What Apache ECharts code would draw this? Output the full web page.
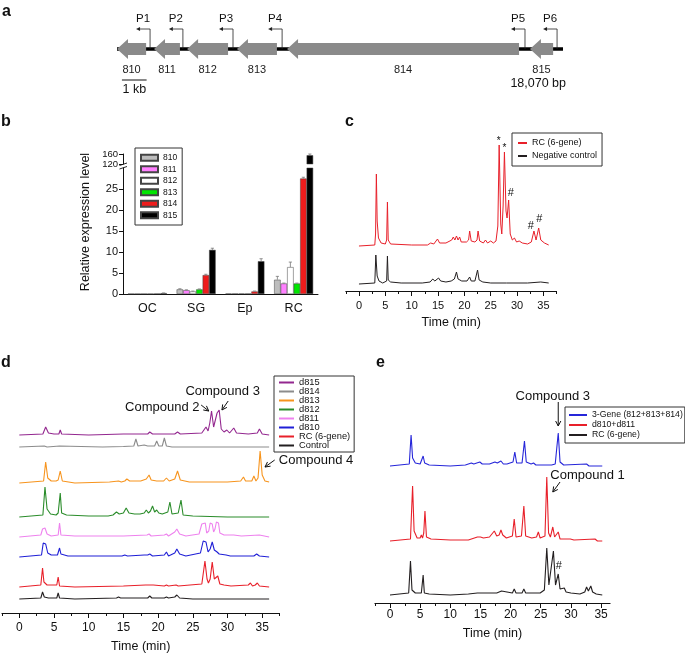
<!DOCTYPE html>
<html><head><meta charset="utf-8">
<script src="https://cdn.jsdelivr.net/npm/echarts@6.0.0/dist/echarts.min.js"></script>
<style>html,body{margin:0;padding:0;background:#fff}#c{width:685px;height:654px}</style>
</head><body><div id="c"></div>
<script>
// ================= DATA =================
// Panel a : gene cluster (kb)
const geneNames = ['810','811','812','813','814','815'];
const geneStartKb = [0, 1.5, 2.84, 4.86, 6.89, 16.73];
const geneEndKb   = [1.18, 2.55, 4.5, 6.48, 16.29, 17.67];
const promoterNames = ['P1','P2','P3','P4','P5','P6'];
const promoterKb = [1.34, 2.67, 4.7, 6.69, 16.53, 17.83];
const clusterLengthBp = 18070;
const scaleBarKb = [0.2, 1.2];

// Panel b : relative expression level
const tissues = ['OC','SG','Ep','RC'];
const expr810 = [0.05, 1.1, 0.1, 3.4];
const expr811 = [0.05, 0.9, 0.1, 2.5];
const expr812 = [0.05, 0.6, 0.1, 6.4];
const expr813 = [0.05, 1.1, 0.1, 2.5];
const expr814 = [0.1, 4.5, 0.6, 27.5];
const expr815 = [0.2, 10.5, 7.8, 155];
const err810 = [0, 0.15, 0, 0.8];
const err811 = [0, 0.1, 0, 0.1];
const err812 = [0, 0.1, 0, 1.2];
const err813 = [0, 0.1, 0, 0.1];
const err814 = [0, 0.2, 0.1, 0.3];
const err815 = [0.05, 0.4, 0.6, 5];
const bLowerTicks = [0,5,10,15,20,25];
const bUpperTicks = [120,160];

// Time axis ticks
const timeLabels = [0,5,10,15,20,25,30,35];
const timeMinor = [-2.5,2.5,7.5,12.5,17.5,22.5,27.5,32.5,37.5];

// Panel c : chromatograms [time (min), intensity]
const cRC = [[0,0],[3.0,1],[3.15,12],[3.3,72],[3.45,25],[3.7,8],[4.2,3],[5.0,2],[5.25,6],[5.4,44],[5.55,6],[6.0,2],[10,1],[13,1],[13.6,3],[14.2,2],[14.9,7],[15.3,3],[16.5,3],[17.6,6],[17.9,9],[18.2,6],[18.5,10],[18.8,6],[19.1,9],[19.4,4],[20.4,4],[20.8,6],[21.0,15],[21.3,5],[22.0,4],[22.4,6],[22.6,15],[22.9,5],[23.6,3],[24.0,6],[24.4,3],[25.0,5],[25.5,3],[26.0,5],[26.35,20],[26.6,101],[26.9,22],[27.1,12],[27.35,40],[27.6,94],[27.9,35],[28.1,28],[28.4,46],[28.7,12],[29.1,6],[29.5,8],[29.9,4],[30.4,5],[31,3],[32,2],[32.7,4],[33.2,15],[33.6,6],[34.1,18],[34.5,6],[35.2,3],[36,1]];
const cNeg = [[0,0],[3.0,1],[3.2,29],[3.45,8],[3.8,3],[4.5,1],[5.25,3],[5.4,28],[5.55,4],[6.0,2],[8,1],[12,1],[13.5,2],[14.0,5],[14.4,3],[15.1,6],[15.5,3],[16.5,2],[17.5,3],[18.1,5],[18.5,12],[18.8,5],[19.5,3],[20.5,3],[21.0,7],[21.3,3],[22.0,3],[22.5,14],[22.8,4],[23.5,2],[25,1],[28,1],[32,1],[34.5,2],[36,1]];

// Panel d
const d815 = [[0,0],[3.4,1],[3.8,8],[4.2,2],[5.0,1],[5.7,1],[5.9,5],[6.1,1],[10,0],[15,1],[18.5,1],[18.8,3],[19.2,1],[22.4,1],[22.8,3],[23.2,1],[26.3,2],[26.9,8],[27.2,4],[27.45,12],[27.7,24],[28.0,8],[28.25,8],[28.5,22],[28.8,25],[29.1,6],[29.5,3],[29.9,5],[30.3,2],[30.9,7],[31.3,2],[33,1],[34.3,2],[34.6,6],[35.0,1],[36,0]];
const d814 = [[0,0],[3.6,1],[3.8,2],[4.0,0],[5.8,1],[6.0,0],[12,0],[15,0.5],[16.5,1],[16.8,8],[17.1,1],[18.0,2],[18.5,1],[19.5,1],[19.8,6],[20.1,1],[20.6,1],[20.9,9],[21.2,1],[22,0],[36,0]];
const d813 = [[0,0],[3.5,2],[3.8,21],[4.1,5],[4.6,2],[5.3,2],[5.6,3],[5.9,12],[6.2,2],[8,0],[13,1],[14.3,2],[14.7,1],[15.2,2],[15.5,4],[15.9,2],[17.5,2],[18.3,4],[18.7,8],[19.0,3],[19.8,2],[20.8,2],[21.2,5],[21.6,2],[22.4,4],[22.8,12],[23.2,3],[24.5,1],[30,1],[31.9,2],[32.3,6],[32.6,2],[33.5,2],[33.8,7],[34.1,2],[34.4,5],[34.7,32],[35.0,8],[35.4,2],[36,1]];
const d812 = [[0,0],[3.4,2],[3.7,30],[4.0,8],[4.5,3],[5.3,2],[5.6,4],[5.9,24],[6.1,4],[6.8,2],[10,1],[12.8,1],[13.5,2],[14.0,5],[14.4,3],[15.0,4],[15.4,9],[15.8,4],[16.6,3],[17.4,3],[18.0,4],[18.3,7],[18.6,4],[18.9,6],[19.2,11],[19.5,5],[19.8,7],[20.1,4],[20.6,3],[21.4,5],[21.7,15],[22.0,3],[22.9,4],[23.3,17],[23.6,2],[25,1],[30,0],[36,0]];
const d811 = [[0,0],[3.1,2],[3.35,8],[3.7,9],[4.0,3],[4.6,1],[5.6,2],[5.8,14],[6.0,2],[8,1],[15,1],[18.4,2],[18.7,3],[19.0,1],[20.9,2],[21.2,3],[21.5,1],[22.4,5],[22.7,8],[23.1,3],[24,1],[25.9,3],[26.3,13],[26.5,15],[26.8,14],[27.0,4],[27.3,6],[27.5,14],[27.8,13],[28.0,5],[28.2,8],[28.4,15],[28.7,14],[28.9,4],[29.5,2],[30.9,2],[32,1],[34.6,2],[36,0]];
const d810 = [[0,0],[3.2,2],[3.45,14],[3.8,13],[4.1,4],[4.6,2],[5.5,2],[5.8,9],[6.0,3],[7,1],[14.8,1],[15.2,2],[15.6,1],[18.0,2],[18.2,3],[18.5,2],[18.8,3],[19.2,1],[20.9,2],[21.2,5],[21.5,1],[22.4,4],[22.7,8],[23.1,3],[24,1],[26.1,4],[26.5,16],[26.9,15],[27.2,5],[27.5,8],[27.8,15],[28.1,7],[28.3,5],[28.5,5],[28.8,3],[29.8,2],[30.4,1],[33.8,1],[34.2,3],[34.6,1],[36,0]];
const dRC = [[0,0],[3.1,2],[3.35,19],[3.55,5],[4.0,2],[5.4,2],[5.6,10],[5.8,1],[8,0],[15,1],[18.2,2],[18.8,2],[19.3,2],[20.9,1],[21.2,2],[21.5,1],[22.6,2],[22.9,1],[26.3,3],[26.75,26],[27.05,8],[27.25,4],[27.5,8],[27.8,25],[28.1,8],[28.3,7],[28.6,11],[28.9,3],[29.5,2],[30.5,1],[33.0,2],[33.3,4],[33.6,1],[34.0,2],[34.3,4],[34.6,1],[36,0]];
const dCtrl = [[0,0],[3.1,1],[3.35,7],[3.6,2],[4.2,1],[5.4,1],[5.6,6],[5.8,1],[8,0],[14.0,1],[14.3,2],[14.6,1],[18.5,1],[18.8,3],[19.1,1],[20.9,1],[21.2,2],[21.5,1],[22.4,2],[22.7,4],[23.1,1],[25,0],[36,0]];

// Panel e
const e3Gene = [[0,0],[3.2,2],[3.5,31],[3.75,8],[4.2,3],[5.0,2],[5.3,3],[5.5,10],[5.75,3],[6.5,1],[10,0],[12.5,1],[13.5,3],[13.9,2],[14.9,4],[15.3,2],[16.5,2],[17.4,4],[17.8,3],[18.4,5],[18.8,2],[19.4,2],[20.4,4],[20.7,14],[21.0,3],[21.9,3],[22.3,25],[22.6,4],[23.4,2],[23.8,3],[24.2,1],[26.8,1],[27.1,3],[27.4,2],[27.6,4],[27.9,33],[28.2,4],[28.8,1],[32.6,2],[33,0],[35.2,0]];
const eD810D811 = [[0,0],[3.4,2],[3.75,55],[4.0,10],[4.5,3],[5.0,3],[5.2,6],[5.4,3],[5.6,8],[5.8,30],[6.05,4],[6.8,2],[10,1],[13,1],[14,3],[14.5,4],[15.0,4],[15.5,3],[16.5,4],[17.3,10],[17.7,5],[18.1,6],[18.4,11],[18.7,6],[19.0,8],[19.3,3],[20.3,5],[20.6,22],[20.9,4],[21.8,5],[22.2,35],[22.5,5],[23.5,3],[24.3,4],[24.6,9],[24.9,3],[25.7,5],[26.0,64],[26.3,8],[26.6,4],[27.0,14],[27.3,4],[27.6,4],[27.9,9],[28.2,2],[29.0,2],[29.9,2],[30.5,1],[34.0,2],[34.4,0],[35.2,0]];
const eRC = [[0,0],[3.1,2],[3.4,34],[3.65,5],[4.2,2],[5.2,2],[5.5,20],[5.7,2],[6.5,1],[10,0],[13,1],[14.5,2],[15.5,2],[17.1,2],[17.4,4],[17.7,2],[18.5,4],[18.8,2],[20.3,2],[20.6,6],[20.9,2],[21.9,2],[22.2,6],[22.5,2],[24.3,2],[24.6,4],[24.9,2],[25.6,5],[26.0,47],[26.35,10],[26.6,8],[27.1,44],[27.45,10],[27.6,8],[27.9,21],[28.2,6],[28.5,4],[28.9,7],[29.2,3],[30,2],[31.5,1],[32.3,3],[32.6,8],[32.9,4],[33.3,9],[33.6,3],[34.2,1],[35.2,0]];

// ================= STYLE / LAYOUT =================
const FONT = 'Liberation Sans, Arial, Helvetica, sans-serif';
const INK = '#111';
const chart = echarts.init(document.getElementById('c'), null, {renderer:'canvas', width:685, height:654});

const cOffsets = [45, 7];
const dOffsets = [178, 166, 130, 96, 76, 56, 26, 14];
const eOffsets = [137, 62, 8];
const dColors = ['#93278f','#8c8c8c','#f7941d','#2a8c2a','#ee82ee','#1f1fd6','#e8202a','#231f20'];
const eColors = ['#2626d9','#e8202a','#231f20'];
const bColors = ['#bdbdbd','#ff80ff','#ffffff','#00e600','#ee1c1c','#000000'];
const BARW = 6.5;

function shift(arr, off){ return arr.map(p => [p[0], p[1] + off]); }

function timeAxes(grid, min, max, labelSize, margin, nameGap){
  return [
    {type:'value', gridIndex:grid, min:min, max:max, position:'bottom',
     axisLine:{show:true, onZero:false, lineStyle:{color:INK, width:1}},
     axisTick:{show:true, length:5, customValues:timeLabels, lineStyle:{color:INK}},
     axisLabel:{customValues:timeLabels, fontSize:labelSize, margin:margin, color:INK, fontFamily:FONT},
     splitLine:{show:false},
     name:'Time (min)', nameLocation:'middle', nameGap:nameGap,
     nameTextStyle:{fontSize:12.5, color:INK, fontFamily:FONT}},
    {type:'value', gridIndex:grid, min:min, max:max, position:'bottom',
     axisLine:{show:false, onZero:false},
     axisTick:{show:true, length:3, customValues:timeMinor.filter(v=>v>=min && v<=max), lineStyle:{color:INK}},
     axisLabel:{show:false}, splitLine:{show:false}}
  ];
}

// ---- renderers for panel a
function renderGene(params, api){
  const i = params.dataIndex;
  const p0 = api.coord([api.value(0), api.value(1)]);
  const p1 = api.coord([api.value(2), api.value(1)]);
  const yc = p0[1], head = 11, hh = 10, bh = 6;
  const x0 = p0[0], x1 = p1[0];
  return {type:'group', children:[
    {type:'polygon', shape:{points:[[x0,yc],[x0+head,yc-hh],[x0+head,yc-bh],[x1,yc-bh],[x1,yc+bh],[x0+head,yc+bh],[x0+head,yc+hh]]},
     style:{fill:'#8a8a8a'}},
    {type:'text', style:{text:geneNames[i], x:(x0+x1)/2, y:yc+21, align:'center', verticalAlign:'middle', fontSize:11, fontFamily:FONT, fill:'#222'}}
  ]};
}
function renderPromoter(params, api){
  const i = params.dataIndex;
  const p = api.coord([api.value(0), api.value(1)]);
  const x = p[0], yc = p[1];
  return {type:'group', children:[
    {type:'polyline', shape:{points:[[x,yc],[x,yc-20],[x-10,yc-20]]}, style:{stroke:'#222', lineWidth:0.8, fill:null}},
    {type:'polygon', shape:{points:[[x-14,yc-20],[x-10,yc-22],[x-10,yc-18]]}, style:{fill:'#222'}},
    {type:'text', style:{text:promoterNames[i], x:x-7, y:yc-30, align:'center', verticalAlign:'middle', fontSize:11.5, fontFamily:FONT, fill:'#111'}}
  ]};
}
function renderScale(params, api){
  const a = api.coord([api.value(0), api.value(1)]);
  const b = api.coord([api.value(2), api.value(1)]);
  const end = api.coord([clusterLengthBp/1000, api.value(1)]);
  const yc = a[1];
  return {type:'group', children:[
    {type:'line', shape:{x1:a[0], y1:yc+31, x2:b[0], y2:yc+31}, style:{stroke:'#111', lineWidth:1}},
    {type:'text', style:{text:'1 kb', x:(a[0]+b[0])/2, y:yc+41, align:'center', verticalAlign:'middle', fontSize:12.5, fontFamily:FONT, fill:'#111'}},
    {type:'text', style:{text:clusterLengthBp.toLocaleString('en-US')+' bp', x:end[0]+3, y:yc+35, align:'right', verticalAlign:'middle', fontSize:12.5, fontFamily:FONT, fill:'#111'}}
  ]};
}
// ---- error bar renderer for panel b
function makeErrRenderer(gi){
  return function(params, api){
    const c0 = api.coord([api.value(0), api.value(1)]);
    const c1 = api.coord([api.value(0), api.value(1) + api.value(2)]);
    const x = c0[0] + (gi - 2.5) * BARW;
    return {type:'group', children:[
      {type:'line', shape:{x1:x, y1:c0[1], x2:x, y2:c1[1]}, style:{stroke:'#777', lineWidth:0.8}},
      {type:'line', shape:{x1:x-1.6, y1:c1[1], x2:x+1.6, y2:c1[1]}, style:{stroke:'#777', lineWidth:0.8}}
    ]};
  };
}

// ================= OPTION =================
const bExpr = [expr810, expr811, expr812, expr813, expr814, expr815];
const bErr = [err810, err811, err812, err813, err814, err815];
const series = [];

// panel a
series.push({type:'line', xAxisIndex:0, yAxisIndex:0, data:[[0,0.5],[clusterLengthBp/1000,0.5]], symbol:'none', silent:true, lineStyle:{color:'#000', width:3.5}, z:1});
series.push({type:'custom', xAxisIndex:0, yAxisIndex:0, data:promoterKb.map(k=>[k,0.5]), renderItem:renderPromoter, z:2, silent:true});
series.push({type:'custom', xAxisIndex:0, yAxisIndex:0, data:geneNames.map((g,i)=>[geneStartKb[i],0.5,geneEndKb[i]]), encode:{x:[0,2], y:1}, renderItem:renderGene, z:3, silent:true});
series.push({type:'custom', xAxisIndex:0, yAxisIndex:0, data:[[scaleBarKb[0],0.5,scaleBarKb[1]]], encode:{x:[0,2], y:1}, renderItem:renderScale, z:3, silent:true});

// panel c (first, so the legend picks red for RC)
series.push({name:'RC (6-gene)', type:'line', xAxisIndex:3, yAxisIndex:3, data:shift(cRC, cOffsets[0]), symbol:'none', lineStyle:{color:'#e8202a', width:1}, itemStyle:{color:'#e8202a'}});
series.push({name:'Negative control', type:'line', xAxisIndex:3, yAxisIndex:3, data:shift(cNeg, cOffsets[1]), symbol:'none', lineStyle:{color:'#231f20', width:1}, itemStyle:{color:'#231f20'}});

// panel b
geneNames.forEach((g, i) => {
  const style = {color:bColors[i], borderColor:'#444', borderWidth:0.5};
  series.push({name:g, type:'bar', xAxisIndex:2, yAxisIndex:2, data:bExpr[i], barWidth:BARW, barGap:'0%', itemStyle:style});
  series.push({name:g, type:'bar', xAxisIndex:1, yAxisIndex:1, data:bExpr[i].map(v => v >= 120 ? v : null), barWidth:BARW, barGap:'0%', itemStyle:style});
  const lowErr = [], upErr = [];
  bExpr[i].forEach((v, k) => {
    if (bErr[i][k] > 0) { if (v <= 30) lowErr.push([k, v, bErr[i][k]]); else if (v >= 120) upErr.push([k, v, bErr[i][k]]); }
  });
  series.push({type:'custom', xAxisIndex:2, yAxisIndex:2, data:lowErr, renderItem:makeErrRenderer(i), z:5, silent:true});
  if (upErr.length) series.push({type:'custom', xAxisIndex:1, yAxisIndex:1, data:upErr, renderItem:makeErrRenderer(i), z:5, silent:true});
});

// panel d
const dNames = ['d815','d814','d813','d812','d811','d810','RC (6-gene)','Control'];
const dTraces = [d815, d814, d813, d812, d811, d810, dRC, dCtrl];
dTraces.forEach((tr, i) => {
  series.push({name:dNames[i], type:'line', xAxisIndex:5, yAxisIndex:4, data:shift(tr, dOffsets[i]), symbol:'none', lineStyle:{color:dColors[i], width:1.1}, itemStyle:{color:dColors[i]}});
});

// panel e
const eNames = ['3-Gene (812+813+814)','d810+d811','RC (6-gene)'];
const eTraces = [e3Gene, eD810D811, eRC];
eTraces.forEach((tr, i) => {
  series.push({name:eNames[i], type:'line', xAxisIndex:7, yAxisIndex:5, data:shift(tr, eOffsets[i]), symbol:'none', lineStyle:{color:eColors[i], width:1.1}, itemStyle:{color:eColors[i]}});
});

const legendText = (size, lh) => ({fontSize:size, lineHeight:lh, fontFamily:FONT, color:INK});
const hideSymbol = {opacity:0};

const option = {
  animation:false,
  backgroundColor:'#fff',
  textStyle:{fontFamily:FONT},
  grid:[
    {left:117, top:30, width:446, height:38},
    {left:123, top:154, width:195, height:10},
    {left:123, top:168, width:195, height:126},
    {left:345.8, top:130, width:210.8, height:161},
    {left:1.95, top:380, width:277.6, height:233},
    {left:374.9, top:380, width:235.2, height:223}
  ],
  xAxis:[
    {type:'value', gridIndex:0, min:0, max:clusterLengthBp/1000, show:false},
    {type:'category', gridIndex:1, data:tissues, show:false},
    {type:'category', gridIndex:2, data:tissues, axisLine:{lineStyle:{color:INK}}, axisTick:{show:false},
     axisLabel:{fontSize:12.5, margin:8, color:INK, fontFamily:FONT}},
    ...timeAxes(3, -2.5, 37.5, 11, 9, 25),
    ...timeAxes(4, -2.5, 37.5, 12, 9, 27),
    ...timeAxes(5, -2.5, 36.5, 12, 6, 24)
  ],
  yAxis:[
    {type:'value', gridIndex:0, min:0, max:1, show:false},
    {type:'value', gridIndex:1, min:120, max:160, axisLine:{show:true, lineStyle:{color:INK}},
     axisTick:{show:true, length:4, customValues:bUpperTicks, lineStyle:{color:INK}},
     axisLabel:{customValues:bUpperTicks, fontSize:9.5, margin:5, color:INK, fontFamily:FONT}, splitLine:{show:false}},
    {type:'value', gridIndex:2, min:0, max:30, axisLine:{show:true, lineStyle:{color:INK}},
     axisTick:{show:true, length:4, customValues:bLowerTicks, lineStyle:{color:INK}},
     axisLabel:{customValues:bLowerTicks, fontSize:11, margin:5, color:INK, fontFamily:FONT}, splitLine:{show:false}},
    {type:'value', gridIndex:3, min:0, max:161, show:false},
    {type:'value', gridIndex:4, min:0, max:233, show:false},
    {type:'value', gridIndex:5, min:0, max:223, show:false}
  ],
  legend:[
    {data:geneNames.map(g=>({name:g, icon:'rect'})), orient:'vertical', left:135, top:148,
     itemWidth:17, itemHeight:6, itemGap:0, padding:[4,5,4,5], borderColor:'#333', borderWidth:1,
     textStyle:legendText(8.5, 11.5), selectedMode:false},
    {data:['RC (6-gene)','Negative control'], orient:'vertical', left:512, top:133,
     itemWidth:9, itemHeight:9, itemGap:3, padding:[5,5,5,5], borderColor:'#333', borderWidth:1,
     itemStyle:hideSymbol, textStyle:legendText(9, 10), selectedMode:false},
    {data:dNames, orient:'vertical', left:274, top:376,
     itemWidth:15, itemHeight:8, itemGap:0, padding:[2,4,2,4], borderColor:'#333', borderWidth:1,
     itemStyle:hideSymbol, textStyle:legendText(9.3, 8.8), selectedMode:false},
    {data:[{name:'3-Gene (812+813+814)'},{name:'d810+d811'},
           {name:'RC (6-gene)', itemStyle:{color:'#231f20', opacity:0}, lineStyle:{color:'#231f20'}}],
     orient:'vertical', left:565, top:407,
     itemWidth:18, itemHeight:8, itemGap:0, padding:[3,2,3,3], borderColor:'#333', borderWidth:1,
     itemStyle:hideSymbol, textStyle:legendText(8.7, 10), selectedMode:false}
  ],
  series:series
};
chart.setOption(option);

// ================= ANNOTATIONS (anchored in data coordinates) =================
const cMarks = [{t:26.5, y:150, s:'*'}, {t:27.6, y:143, s:'*'}, {t:28.8, y:98, s:'#'}, {t:32.6, y:65, s:'#'}, {t:34.2, y:72, s:'#'}];
const dLabels = [{t:20.6, y:206, s:'Compound 2', align:'center'}, {t:29.3, y:222, s:'Compound 3', align:'center'}, {t:37.4, y:153, s:'Compound 4', align:'left'}];
const dArrows = [{from:[26.2,208], to:[27.3,202]}, {from:[30.1,212], to:[29.2,203]}, {from:[36.8,153], to:[35.4,146]}];
const eLabels = [{t:27.0, y:207, s:'Compound 3', align:'center'}, {t:32.75, y:128, s:'Compound 1', align:'center'}, {t:28.0, y:37, s:'#', align:'center', size:11}];
const eArrows = [{from:[27.9,201], to:[27.9,177]}, {from:[28.2,121], to:[27.0,111]}];

function px(xi, yi, pt){ return chart.convertToPixel({xAxisIndex:xi, yAxisIndex:yi}, pt); }
function arrow(p1, p2){
  const dx = p2[0]-p1[0], dy = p2[1]-p1[1], L = Math.hypot(dx, dy), ux = dx/L, uy = dy/L;
  const hl = 5, hw = 2.6, bx = p2[0]-ux*hl, by = p2[1]-uy*hl;
  return [
    {type:'line', shape:{x1:p1[0], y1:p1[1], x2:p2[0], y2:p2[1]}, style:{stroke:INK, lineWidth:1}},
    {type:'polyline', shape:{points:[[bx-uy*hw, by+ux*hw],[p2[0],p2[1]],[bx+uy*hw, by-ux*hw]]}, style:{stroke:INK, lineWidth:1, fill:null}}
  ];
}
function txt(x, y, s, size, align, weight){
  return {type:'text', style:{text:s, x:x, y:y, align:align||'center', verticalAlign:'middle', fontSize:size, fontWeight:weight||'normal', fontFamily:FONT, fill:INK}};
}
const g = [];
// panel letters
[['a',2,12],['b',1,122],['c',345,122],['d',1,363],['e',376,363]].forEach(l => g.push(txt(l[1], l[2], l[0], 16, 'left', 'bold')));
// panel b y title and axis break
g.push({type:'text', x:86, y:222, rotation:Math.PI/2, style:{text:'Relative expression level', x:0, y:0, align:'center', verticalAlign:'middle', fontSize:12.5, fontFamily:FONT, fill:INK}});
g.push({type:'rect', shape:{x:119, y:164, width:8, height:4}, style:{fill:'#fff'}});
g.push({type:'line', shape:{x1:119.5, y1:165.5, x2:127, y2:163}, style:{stroke:INK, lineWidth:0.9}});
g.push({type:'line', shape:{x1:119.5, y1:169, x2:127, y2:166.5}, style:{stroke:INK, lineWidth:0.9}});
// c markers
cMarks.forEach(m => { const p = px(3, 3, [m.t, m.y]); g.push(txt(p[0], p[1], m.s, m.s === '*' ? 10 : 11)); });
// d labels & arrows
dLabels.forEach(m => { const p = px(5, 4, [m.t, m.y]); g.push(txt(p[0], p[1], m.s, 13, m.align)); });
dArrows.forEach(a => arrow(px(5, 4, a.from), px(5, 4, a.to)).forEach(e => g.push(e)));
// e labels & arrows
eLabels.forEach(m => { const p = px(7, 5, [m.t, m.y]); g.push(txt(p[0], p[1], m.s, m.size || 13, m.align)); });
eArrows.forEach(a => arrow(px(7, 5, a.from), px(7, 5, a.to)).forEach(e => g.push(e)));

chart.setOption({graphic:g});
</script>
</body></html>
